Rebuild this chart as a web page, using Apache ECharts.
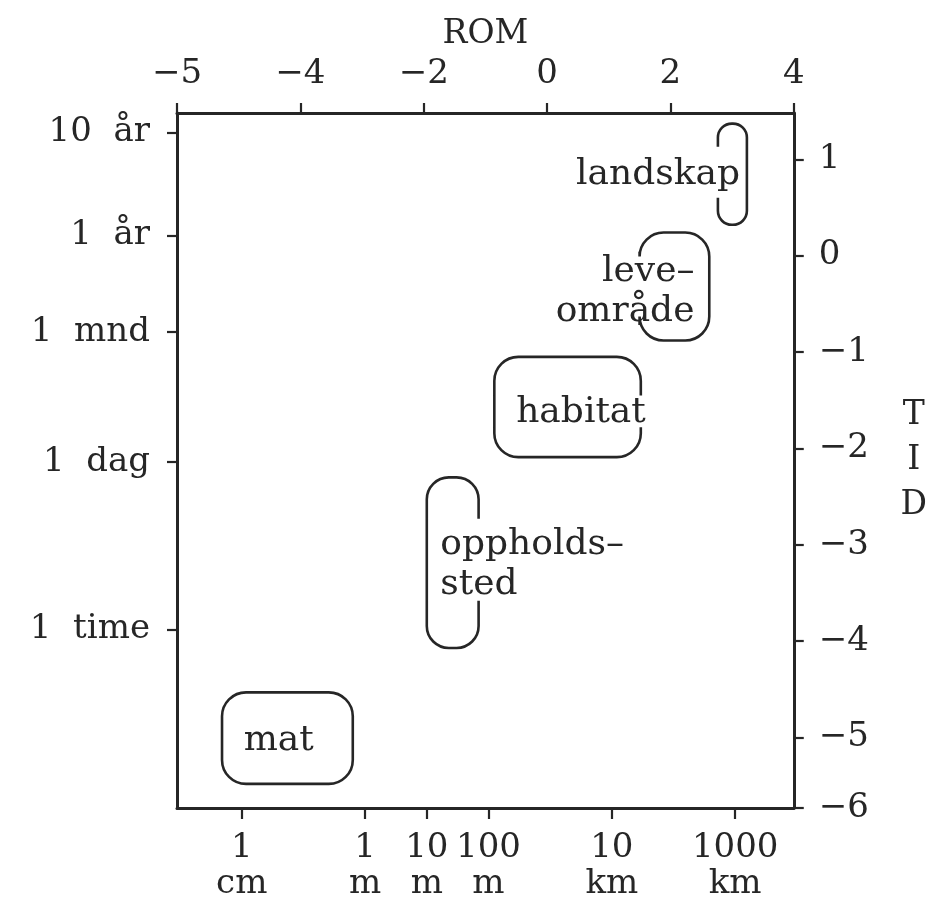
<!DOCTYPE html>
<html>
<head>
<meta charset="utf-8">
<script src="https://cdn.jsdelivr.net/npm/echarts@6/dist/echarts.min.js"></script>
<style>
  html, body { margin: 0; padding: 0; background: #ffffff; }
  #chart { width: 930px; height: 905px; }
</style>
</head>
<body>
<div id="chart"></div>
<script>
// ---------- data ----------
// top axis: ROM (the corner tick is printed as "−5" in the original figure)
const romTickValues = [-6, -4, -2, 0, 2, 4];
const romTickLabels = ['−5', '−4', '−2', '0', '2', '4'];
// bottom axis: distance, log10(metres)
const distTickValues = [-2, 0, 1, 2, 4, 6];
const distTickLabels = ['1\ncm', '1\nm', '10\nm', '100\nm', '10\nkm', '1000\nkm'];
// right axis: TID (the corner tick is printed as "−6" in the original figure)
const tidTickValues = [-5.73, -5, -4, -3, -2, -1, 0, 1];
const tidTickLabels = ['−6', '−5', '−4', '−3', '−2', '−1', '0', '1'];
// left axis: time labels, positions read on the TID scale
const timeTickValues = [1.28, 0.21, -0.79, -2.14, -3.88];
const timeTickLabels = ['10  år', '1  år', '1  mnd', '1  dag', '1  time'];

// boxes (ROM range, TID range)
const boxNames     = ['landskap', 'leveområde', 'habitat', 'oppholdssted', 'mat'];
const boxRomFrom   = [2.77, 1.50, -0.855, -1.95, -5.27];
const boxRomTo     = [3.24, 2.63, 1.52, -1.11, -3.15];
const boxTidTop    = [1.37, 0.24, -1.05, -2.30, -4.53];
const boxTidBottom = [0.32, -0.88, -2.09, -4.07, -5.48];
// open part of each box outline (where the text runs over the border)
const gapSide      = ['left', 'left', 'right', 'right', 'none'];
const gapTidTop    = [1.13, 0.04, -1.45, -2.73, null];
const gapTidBottom = [0.60, -0.72, -1.78, -3.58, null];
// box labels
const labelLines = [['landskap'], ['leve–', 'område'], ['habitat'], ['oppholds–', 'sted'], ['mat']];
const labelRom   = [3.13, 2.39, 0.55, -1.73, -4.35];
const labelTid   = [0.84, -0.37, -1.63, -3.205, -5.03];

// ---------- style ----------
const INK = '#262626';
const FONT = 'DejaVu Serif';
const boxRadiusPx = [14, 24, 24, 22, 24];
const labelAlign = ['right', 'right', 'center', 'left', 'center'];

function tickFormatter(values, labels) {
  return function (v) {
    let best = 0, bd = Infinity;
    values.forEach(function (t, i) {
      const d = Math.abs(t - v);
      if (d < bd) { bd = d; best = i; }
    });
    return labels[best];
  };
}

function roundedPath(x0, y0, x1, y1, r, side, g0, g1) {
  const k = 0.5523 * r;
  const TL = 'C' + x0 + ',' + (y0 + r - k) + ' ' + (x0 + r - k) + ',' + y0 + ' ' + (x0 + r) + ',' + y0;
  const TOP = 'L' + (x1 - r) + ',' + y0;
  const TR = 'C' + (x1 - r + k) + ',' + y0 + ' ' + x1 + ',' + (y0 + r - k) + ' ' + x1 + ',' + (y0 + r);
  const RIGHT = 'L' + x1 + ',' + (y1 - r);
  const BR = 'C' + x1 + ',' + (y1 - r + k) + ' ' + (x1 - r + k) + ',' + y1 + ' ' + (x1 - r) + ',' + y1;
  const BOT = 'L' + (x0 + r) + ',' + y1;
  const BL = 'C' + (x0 + r - k) + ',' + y1 + ' ' + x0 + ',' + (y1 - r + k) + ' ' + x0 + ',' + (y1 - r);
  const LEFT = 'L' + x0 + ',' + (y0 + r);
  if (side === 'left') {
    return ['M' + x0 + ',' + g0, LEFT, TL, TOP, TR, RIGHT, BR, BOT, BL, 'L' + x0 + ',' + g1].join(' ');
  }
  if (side === 'right') {
    return ['M' + x1 + ',' + g1, RIGHT, BR, BOT, BL, LEFT, TL, TOP, TR, 'L' + x1 + ',' + g0].join(' ');
  }
  return ['M' + x0 + ',' + (y0 + r), TL, TOP, TR, RIGHT, BR, BOT, BL, 'Z'].join(' ');
}

const boxData = boxNames.map(function (n, i) {
  return [boxRomFrom[i], boxRomTo[i], boxTidTop[i], boxTidBottom[i]];
});

const axisText = { fontFamily: FONT, fontSize: 34, color: INK };
const lineStyle = { color: INK, width: 3 };
const tickStyle = { color: INK, width: 2.2 };

const chart = echarts.init(document.getElementById('chart'), null, { renderer: 'canvas' });
chart.setOption({
  animation: false,
  backgroundColor: '#ffffff',
  grid: { left: 177, right: 133, top: 113, bottom: 97, containLabel: false },
  xAxis: [
    {
      type: 'value', position: 'bottom', min: -3.05, max: 6.95,
      axisLine: { show: true, onZero: false, lineStyle: lineStyle },
      axisTick: { show: true, inside: false, length: 11, customValues: distTickValues, lineStyle: tickStyle },
      axisLabel: Object.assign({ customValues: distTickValues, formatter: tickFormatter(distTickValues, distTickLabels), margin: 22, lineHeight: 36 }, axisText),
      splitLine: { show: false }
    },
    {
      type: 'value', position: 'top', min: -6, max: 4,
      name: 'ROM', nameLocation: 'middle', nameGap: 62,
      nameTextStyle: { fontFamily: FONT, fontSize: 33, color: INK },
      axisLine: { show: true, onZero: false, lineStyle: lineStyle },
      axisTick: { show: true, inside: false, length: 10, customValues: romTickValues, lineStyle: tickStyle },
      axisLabel: Object.assign({ customValues: romTickValues, formatter: tickFormatter(romTickValues, romTickLabels), margin: 22 }, axisText),
      splitLine: { show: false }
    }
  ],
  yAxis: [
    {
      type: 'value', position: 'left', min: -5.73, max: 1.48,
      axisLine: { show: true, onZero: false, lineStyle: lineStyle },
      axisTick: { show: true, inside: false, length: 10, customValues: timeTickValues, lineStyle: tickStyle },
      axisLabel: Object.assign({ customValues: timeTickValues, formatter: tickFormatter(timeTickValues, timeTickLabels), margin: 27 }, axisText),
      splitLine: { show: false }
    },
    {
      type: 'value', position: 'right', min: -5.73, max: 1.48,
      name: 'T\nI\nD', nameLocation: 'middle', nameGap: 120, nameRotate: 0,
      nameTextStyle: { fontFamily: FONT, fontSize: 33, color: INK, lineHeight: 45, align: 'center', verticalAlign: 'middle', padding: [32, 0, 0, 0] },
      axisLine: { show: true, onZero: false, lineStyle: lineStyle },
      axisTick: { show: true, inside: false, length: 10, customValues: tidTickValues, lineStyle: tickStyle },
      axisLabel: Object.assign({ customValues: tidTickValues, formatter: tickFormatter(tidTickValues, tidTickLabels), margin: 25 }, axisText),
      splitLine: { show: false }
    }
  ],
  series: [
    {
      type: 'custom',
      name: 'skalaer',
      xAxisIndex: 1,
      yAxisIndex: 1,
      silent: true,
      clip: false,
      encode: { x: [0, 1], y: [2, 3] },
      data: boxData,
      renderItem: function (params, api) {
        const i = params.dataIndex;
        const a = api.coord([api.value(0), api.value(2)]);
        const b = api.coord([api.value(1), api.value(3)]);
        const x0 = Math.min(a[0], b[0]), x1 = Math.max(a[0], b[0]);
        const y0 = Math.min(a[1], b[1]), y1 = Math.max(a[1], b[1]);
        let g0 = null, g1 = null;
        if (gapSide[i] !== 'none') {
          const ga = api.coord([api.value(0), gapTidTop[i]])[1];
          const gb = api.coord([api.value(0), gapTidBottom[i]])[1];
          g0 = Math.min(ga, gb); g1 = Math.max(ga, gb);
        }
        const r = Math.min(boxRadiusPx[i], (x1 - x0) / 2, (y1 - y0) / 2);
        const lp = api.coord([labelRom[i], labelTid[i]]);
        return {
          type: 'group',
          children: [
            {
              type: 'path',
              shape: { pathData: roundedPath(x0, y0, x1, y1, r, gapSide[i], g0, g1) },
              style: { fill: 'none', stroke: INK, lineWidth: 2.6 }
            },
            {
              type: 'text',
              style: {
                text: labelLines[i].join('\n'),
                x: lp[0], y: lp[1],
                align: labelAlign[i], verticalAlign: 'middle',
                fontFamily: FONT, fontSize: 36, lineHeight: 40,
                fill: INK
              }
            }
          ]
        };
      }
    }
  ]
});
</script>
</body>
</html>
